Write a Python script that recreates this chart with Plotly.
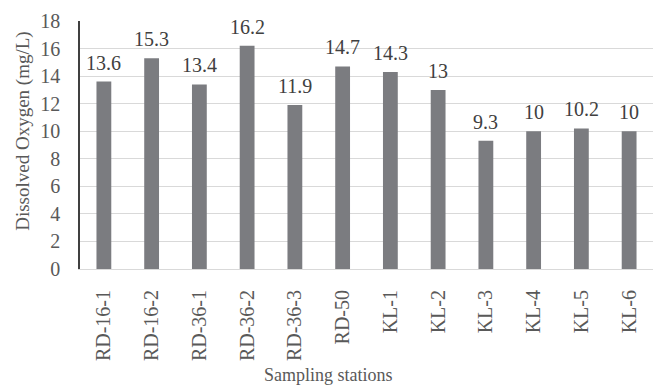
import plotly.graph_objects as go

stations = ["RD-16-1", "RD-16-2", "RD-36-1", "RD-36-2", "RD-36-3", "RD-50",
            "KL-1", "KL-2", "KL-3", "KL-4", "KL-5", "KL-6"]
oxygen = [13.6, 15.3, 13.4, 16.2, 11.9, 14.7, 14.3, 13, 9.3, 10, 10.2, 10]
labels = ["13.6", "15.3", "13.4", "16.2", "11.9", "14.7", "14.3", "13", "9.3", "10", "10.2", "10"]
y_title = "Dissolved Oxygen (mg/L)"
x_title = "Sampling stations"

font = "Liberation Serif, Times New Roman, serif"
fig = go.Figure(go.Bar(
    x=stations, y=oxygen,
    marker=dict(color="#7b7c80", line=dict(width=0)),
))
for s, v, t in zip(stations, oxygen, labels):
    fig.add_annotation(x=s, y=v, text=t, showarrow=False, yanchor="bottom",
                       yshift=6, font=dict(family=font, size=20, color="#404040"))
fig.add_annotation(x=-0.1, y=0.556, xref="paper", yref="paper", text=y_title,
                   textangle=-90, showarrow=False, xanchor="center", yanchor="middle",
                   font=dict(family=font, size=19, color="#595959"))
fig.add_annotation(x=0.433, y=-0.427, xref="paper", yref="paper", text=x_title,
                   showarrow=False, xanchor="center", yanchor="middle",
                   font=dict(family=font, size=18, color="#595959"))
fig.update_layout(
    width=661, height=386,
    margin=dict(l=80, r=8, t=21, b=117),
    plot_bgcolor="white", paper_bgcolor="white",
    bargap=0.69,
    showlegend=False,
    font=dict(family=font, size=20, color="#595959"),
)
fig.update_yaxes(
    range=[0, 18], dtick=2, showgrid=True, gridcolor="#d9d9d9", gridwidth=1,
    showline=True, linecolor="#404040", linewidth=1.5, zeroline=False,
    ticks="", ticklabelstandoff=14, automargin=False,
    tickfont=dict(family=font, size=20, color="#595959"),
)
fig.update_xaxes(
    showline=True, linecolor="#d9d9d9", linewidth=1, tickangle=-90,
    ticks="", ticklabelstandoff=12, automargin=False,
    tickfont=dict(family=font, size=20, color="#595959"),
)
fig.write_html("out.html")
